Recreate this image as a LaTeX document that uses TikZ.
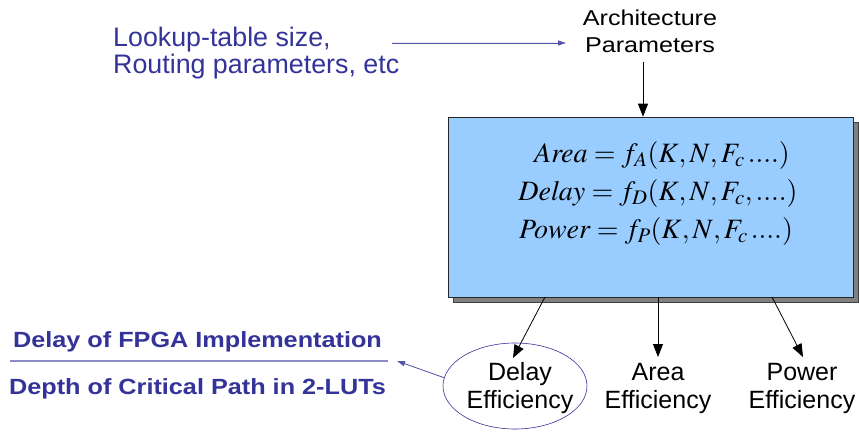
\documentclass[tikz,border=0pt]{standalone}
\usepackage{mathptmx}
\usepackage[no-math]{fontspec}
\usepackage{graphicx}
\setmainfont{Liberation Sans}
\usetikzlibrary{arrows.meta,shadows,shapes.geometric}
\definecolor{txtblue}{HTML}{333399}
\definecolor{arrblue}{HTML}{5555AA}
\definecolor{boxblue}{HTML}{99CCFF}
\definecolor{rulblue}{HTML}{8C8CC8}
\begin{document}
\begin{tikzpicture}[x=1pt,y=-1pt,
  lbl/.style={inner sep=0pt, align=center, font=\fontsize{25}{28}\selectfont},
  eq/.style={inner sep=0pt, anchor=base, font=\fontsize{28}{32}\selectfont},
  blk/.style={-{Triangle[length=13pt,width=10pt]}, line width=0.8pt},
  bluearrow/.style={-{Triangle[length=8pt,width=5pt]}, draw=arrblue, fill=arrblue, line width=0.8pt},
  fractxt/.style={inner sep=0pt, anchor=base, text=txtblue, font=\fontsize{22}{26}\selectfont\bfseries}]
\useasboundingbox (0,0) rectangle (859,433);
\fill[white] (0,0) rectangle (859,433);

% top-left parameters text
\node[inner sep=0pt, anchor=west, align=left, text=txtblue,
      font=\fontsize{26.8}{27}\selectfont] (lookup) at (113,53)
  {Lookup-table size,\\Routing parameters, etc};
\coordinate (la) at (392,43);
\coordinate (lb) at (566,43);
\draw[bluearrow] (la) -- (lb);

% architecture parameters
\node[inner sep=0pt, font=\fontsize{21.5}{27}\selectfont] (arch) at (650,34)
  {\scalebox{1.17}[1]{\begin{tabular}{@{}c@{}}Architecture\\Parameters\end{tabular}}};

% main box
\node[draw=black!85, line width=0.6pt, fill=boxblue, minimum width=405pt, minimum height=180pt, inner sep=0pt,
      drop shadow={shadow xshift=5pt, shadow yshift=-5pt, fill=gray, draw=black!75, opacity=1}]
      (box) at (650.5,207) {};
\coordinate (at) at (643,62);
\draw[blk] (at) -- (at |- box.north);

\node[eq] (eqa) at (662,162) {$\mathit{Area}=f_A(K,N,F_c\,....)$};
\node[eq] (eqd) at (658,200) {$\mathit{Delay}=f_D(K,N,F_c,....)$};
\node[eq] (eqp) at (656,238) {$\mathit{Power}=f_P(K,N,F_c\,....)$};

% outputs
\node[draw=txtblue, line width=0.6pt, ellipse, minimum width=144pt, minimum height=86pt, inner sep=0pt] (ell) at (515,386) {};
\node[lbl] (delay) at (520,388) {Delay\\Efficiency};
\node[lbl] (area) at (658,388) {Area\\Efficiency};
\node[lbl] (power) at (802,388) {Power\\Efficiency};

\coordinate (s1) at (545,297);
\coordinate (s2) at (658,297);
\coordinate (s3) at (772,297);
\coordinate (e1) at (513,358);
\coordinate (e2) at (658,357);
\coordinate (e3) at (803,357);
\draw[blk] (s1) -- (e1);
\draw[blk] (s2) -- (e2);
\draw[blk] (s3) -- (e3);

% fraction
\node[fractxt] (num) at (197.5,347) {\scalebox{1.147}[1]{Delay of FPGA Implementation}};
\node[fractxt] (den) at (197.5,394) {\scalebox{1.147}[1]{Depth of Critical Path in 2-LUTs}};
\coordinate (r1) at (10,361);
\coordinate (r2) at (388,361);
\draw[rulblue, line width=1.8pt] (r1) -- (r2);
\coordinate (fa) at (445,378);
\coordinate (fb) at (397,361);
\draw[bluearrow] (fa) -- (fb);
\end{tikzpicture}
\end{document}
